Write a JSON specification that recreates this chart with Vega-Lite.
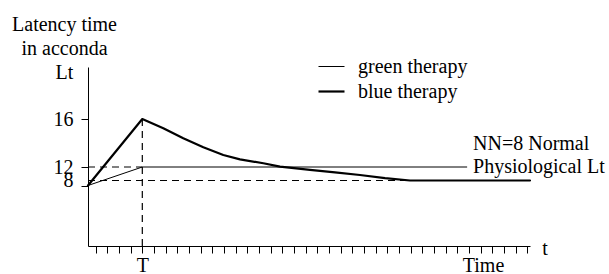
{
  "$schema": "https://vega.github.io/schema/vega-lite/v6.json",
  "width": 442,
  "height": 179,
  "autosize": {"type": "none"},
  "padding": {"left": 88, "top": 67, "right": 79, "bottom": 28},
  "background": "white",
  "config": {
    "view": {"stroke": null},
    "axis": {"grid": false, "domainColor": "black", "tickColor": "black", "labelColor": "black", "titleColor": "black", "labelFont": "Liberation Serif", "titleFont": "Liberation Serif", "labelFontSize": 20, "titleFontSize": 20, "titleFontWeight": "normal", "domainWidth": 1, "tickWidth": 1},
    "legend": {"labelFont": "Liberation Serif"}
  },
  "datasets": {
    "guides": [
      {"x1": 0.347, "x2": 5, "y1": 12, "y2": 12},
      {"x1": 0.347, "x2": 38.22, "y1": 8, "y2": 8},
      {"x1": 5, "x2": 5, "y1": 0, "y2": 16}
    ],
    "curves": [
      {"therapy": "green therapy", "i": 0, "x": 0.347, "y": 7},
      {"therapy": "green therapy", "i": 1, "x": 5, "y": 12},
      {"therapy": "green therapy", "i": 2, "x": 32.8, "y": 12},
      {"therapy": "blue therapy", "i": 0, "x": 0.347, "y": 7},
      {"therapy": "blue therapy", "i": 1, "x": 5, "y": 16},
      {"therapy": "blue therapy", "i": 2, "x": 6.8, "y": 15.23},
      {"therapy": "blue therapy", "i": 3, "x": 8.51, "y": 14.39},
      {"therapy": "blue therapy", "i": 4, "x": 10.23, "y": 13.64},
      {"therapy": "blue therapy", "i": 5, "x": 11.94, "y": 13.0},
      {"therapy": "blue therapy", "i": 6, "x": 13.37, "y": 12.64},
      {"therapy": "blue therapy", "i": 7, "x": 15.37, "y": 12.31},
      {"therapy": "blue therapy", "i": 8, "x": 16.8, "y": 12.03},
      {"therapy": "blue therapy", "i": 9, "x": 19.37, "y": 11.17},
      {"therapy": "blue therapy", "i": 10, "x": 21.51, "y": 10.43},
      {"therapy": "blue therapy", "i": 11, "x": 23.65, "y": 9.63},
      {"therapy": "blue therapy", "i": 12, "x": 25.8, "y": 8.68},
      {"therapy": "blue therapy", "i": 13, "x": 27.94, "y": 8.0},
      {"therapy": "blue therapy", "i": 14, "x": 38.22, "y": 8.0}
    ],
    "notes": [
      {"x": 33.34, "y": 13.88, "label": "NN=8 Normal"},
      {"x": 33.34, "y": 12, "label": "Physiological Lt"}
    ],
    "axisend": [
      {"x": 39.5, "y": 0, "label": "t"}
    ]
  },
  "layer": [
    {
      "data": {"name": "guides"},
      "mark": {"type": "rule", "strokeDash": [7, 5], "strokeWidth": 1.2, "color": "black"},
      "encoding": {
        "x": {"field": "x1", "type": "quantitative",
          "scale": {"domain": [0.347, 38.22], "nice": false, "zero": false},
          "axis": {
            "values": [1,2,3,4,5,6,7,8,9,10,11,12,13,14,15,16,17,18,19,20,21,22,23,24,25,26,27,28,29,30,31,32,33,34,35,36,37,38],
            "tickCount": 60,
            "labelExpr": "datum.value == 5 ? 'T' : ''",
            "labelFont": "Liberation Serif",
            "tickSize": 7, "labelPadding": 18, "labelBaseline": "alphabetic",
            "labelOverlap": false, "labelFlush": false,
            "title": "Time", "titleFont": "Liberation Serif", "titleX": 395, "titleY": 25, "titleAlign": "center", "titleBaseline": "alphabetic"
          }
        },
        "x2": {"field": "x2"},
        "y": {"field": "y1", "type": "quantitative",
          "scale": {"type": "linear", "domain": [0, 7, 8, 12, 16, 20.33], "range": [179, 118.5, 113.5, 100, 52, 0], "nice": false, "zero": false},
          "axis": {
            "values": [7, 12, 16],
            "labelExpr": "datum.value == 7 ? '8' : datum.label",
            "labelOffset": {"condition": {"test": "datum.value == 7", "value": -5}, "value": 0},
            "labelOverlap": false,
            "labelFont": "Liberation Serif",
            "tickSize": 7, "labelPadding": 8,
            "title": ["Latency time", "in acconda", "Lt"],
            "titleFont": "Liberation Serif",
            "titleAngle": 0, "titleAlign": "center", "titleBaseline": "alphabetic",
            "titleX": -24, "titleY": -37, "titleLineHeight": 24
          }
        },
        "y2": {"field": "y2"}
      }
    },
    {
      "data": {"name": "curves"},
      "mark": {"type": "line", "color": "black", "strokeCap": "round", "strokeJoin": "round"},
      "encoding": {
        "x": {"field": "x", "type": "quantitative"},
        "y": {"field": "y", "type": "quantitative"},
        "order": {"field": "i", "type": "quantitative"},
        "strokeWidth": {
          "field": "therapy", "type": "nominal",
          "scale": {"domain": ["green therapy", "blue therapy"], "range": [1, 2.2]},
          "legend": {
            "title": null, "orient": "none", "legendX": 229, "legendY": -14,
            "symbolType": "stroke", "symbolSize": 676, "symbolStrokeColor": "black",
            "labelFont": "Liberation Serif", "labelFontSize": 20, "labelColor": "black",
            "labelOffset": 12, "rowPadding": -2, "padding": 0
          }
        }
      }
    },
    {
      "data": {"name": "notes"},
      "mark": {"type": "text", "align": "left", "baseline": "middle", "font": "Liberation Serif", "fontSize": 20, "color": "black"},
      "encoding": {
        "x": {"field": "x", "type": "quantitative"},
        "y": {"field": "y", "type": "quantitative"},
        "text": {"field": "label"}
      }
    },
    {
      "data": {"name": "axisend"},
      "mark": {"type": "text", "align": "center", "baseline": "middle", "dy": 3, "font": "Liberation Serif", "fontSize": 20, "color": "black"},
      "encoding": {
        "x": {"field": "x", "type": "quantitative"},
        "y": {"field": "y", "type": "quantitative"},
        "text": {"field": "label"}
      }
    }
  ]
}
